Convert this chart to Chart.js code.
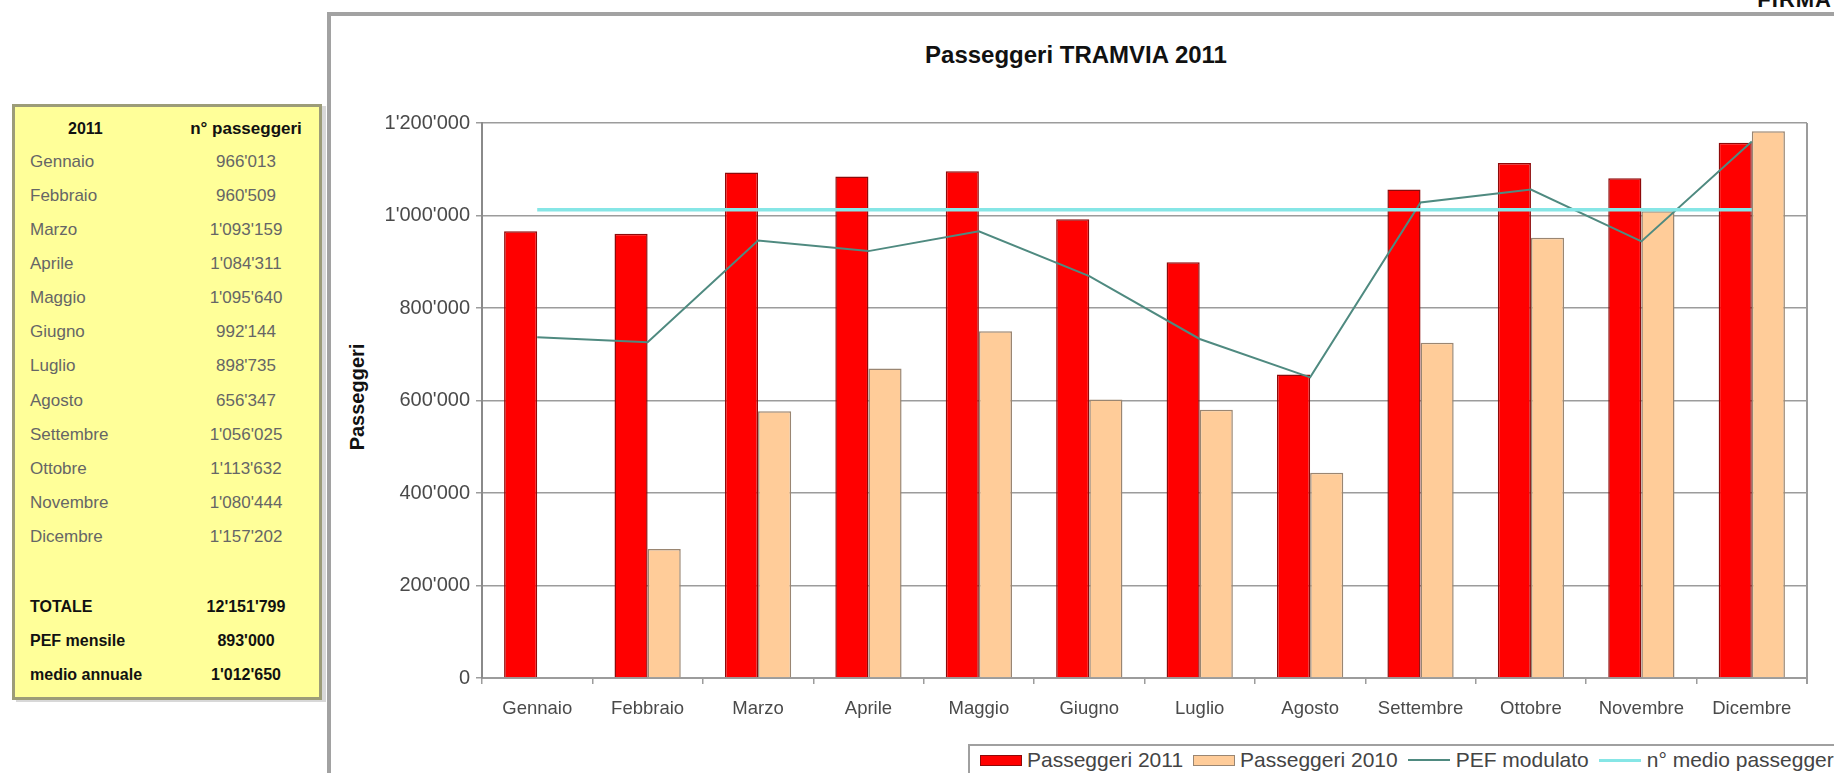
<!DOCTYPE html>
<html>
<head>
<meta charset="utf-8">
<script src="https://cdn.jsdelivr.net/npm/chart.js@4.4.1/dist/chart.umd.min.js"></script>
<style>
  html, body { margin: 0; padding: 0; background: #fff; overflow: hidden; }
  body { width: 1834px; height: 773px; position: relative; font-family: 'Liberation Sans', Arial, sans-serif; }
  .firma { position: absolute; right: 2px; top: -13px; font: bold 22px 'Liberation Sans', Arial, sans-serif; color: #111; letter-spacing: 1px; }
  .tabella { position: absolute; left: 12px; top: 104px; width: 304px; height: 590px; background: #ffff99; border: 3px solid #9c9c78; box-shadow: 4px 2px 0 #d8d8d8; }
  .riga { position: absolute; left: 0; width: 100%; height: 22px; line-height: 22px; font-size: 17px; color: #666; }
  .riga .mese { position: absolute; left: 15px; }
  .riga .val { position: absolute; left: 166px; width: 130px; text-align: center; }
  .riga.bold { color: #111; font-weight: bold; font-size: 16px; }
  .riga.head .val { font-size: 17px; }
  .cornice { position: absolute; left: 327px; top: 12px; width: 1530px; height: 780px; border: 4px solid #a2a2a2; box-sizing: border-box; }
  .titolo { position: absolute; left: 826px; width: 500px; top: 41px; text-align: center; font: bold 24px 'Liberation Sans', Arial, sans-serif; color: #111; }
  .ytitolo { position: absolute; left: 357px; top: 397px; transform: translate(-50%, -50%) rotate(-90deg); font: bold 20px 'Liberation Sans', Arial, sans-serif; color: #111; white-space: nowrap; }
  #wrap { position: absolute; left: 334px; top: 16px; width: 1500px; height: 757px; }
  .legenda { position: absolute; left: 968px; top: 744px; width: 900px; border: 2px solid #a0a0a0; background: #fff;
             display: flex; align-items: center; height: 24px; padding: 2px 0 40px 10px; box-sizing: content-box; }
  .legenda .item { display: flex; align-items: center; font-size: 21px; color: #444; white-space: nowrap; margin-right: 10px; }
  .legenda .sw { width: 42px; height: 11px; box-sizing: border-box; margin-right: 5px; }
  .legenda .ln { width: 42px; margin-right: 6px; }
</style>
</head>
<body>
<div class="firma">FIRMA</div>

<div class="tabella" id="tabella"></div>

<div class="cornice"></div>
<div class="titolo">Passeggeri TRAMVIA 2011</div>
<div class="ytitolo">Passeggeri</div>
<div id="wrap"><canvas id="chart"></canvas></div>
<div class="legenda" id="legenda"></div>

<script>
// ── Data ──────────────────────────────────────────────────────
const months = ['Gennaio', 'Febbraio', 'Marzo', 'Aprile', 'Maggio', 'Giugno', 'Luglio', 'Agosto', 'Settembre', 'Ottobre', 'Novembre', 'Dicembre'];
const passeggeri2011 = [966013, 960509, 1093159, 1084311, 1095640, 992144, 898735, 656347, 1056025, 1113632, 1080444, 1157202];
const passeggeri2010 = [null, 279000, 577000, 669000, 750000, 602000, 580000, 444000, 725000, 952000, 1009000, 1182000];
const pefModulato = [737000, 726000, 946000, 923000, 966000, 869000, 733000, 650000, 1028000, 1056000, 944000, 1160000];
const medioPasseggeri = [1012650, 1012650, 1012650, 1012650, 1012650, 1012650, 1012650, 1012650, 1012650, 1012650, 1012650, 1012650];
const yTicks = [0, 200000, 400000, 600000, 800000, 1000000, 1200000];

const summaryLabels = ['TOTALE', 'PEF mensile', 'medio annuale'];
const summaryValues = [12151799, 893000, 1012650];

const seriesNames = ['Passeggeri 2011', 'Passeggeri 2010', 'PEF modulato', 'n° medio passeggeri'];
const COL = {
  red: '#ff0000', redBorder: '#8e0a0a',
  tan: '#ffcc99', tanBorder: '#9a8672',
  pef: '#4f8a80', medio: '#86e6e6',
  grid: '#9c9c9c', text: '#4a4a4a',
};

const fmt = v => String(v).replace(/\B(?=(\d{3})+(?!\d))/g, "'");

// ── Table ─────────────────────────────────────────────────────
const tab = document.getElementById('tabella');
const rowTops = [11, 44, 78, 112, 146, 180, 214, 248, 283, 317, 351, 385, 419];
let html = `<div class="riga bold head" style="top:${rowTops[0]}px"><span class="mese" style="left:53px">2011</span><span class="val">n° passeggeri</span></div>`;
months.forEach((m, i) => {
  html += `<div class="riga" style="top:${rowTops[i + 1]}px"><span class="mese">${m}</span><span class="val">${fmt(passeggeri2011[i])}</span></div>`;
});
summaryLabels.forEach((l, i) => {
  html += `<div class="riga bold" style="top:${489 + i * 34}px"><span class="mese">${l}</span><span class="val">${fmt(summaryValues[i])}</span></div>`;
});
tab.innerHTML = html;

// ── Legend ────────────────────────────────────────────────────
document.getElementById('legenda').innerHTML = seriesNames.map((n, i) => {
  let mark;
  if (i === 0) mark = `<div class="sw" style="background:${COL.red};border:1px solid ${COL.redBorder}"></div>`;
  else if (i === 1) mark = `<div class="sw" style="background:${COL.tan};border:1px solid ${COL.tanBorder}"></div>`;
  else if (i === 2) mark = `<div class="ln" style="border-top:2px solid ${COL.pef}"></div>`;
  else mark = `<div class="ln" style="border-top:3px solid ${COL.medio}"></div>`;
  return `<div class="item">${mark}<span>${n}</span></div>`;
}).join('');

// ── Chart ─────────────────────────────────────────────────────
const plotFrame = {
  id: 'plotFrame',
  afterDatasetsDraw(chart) {
    const { ctx, chartArea: a } = chart;
    ctx.save();
    ctx.strokeStyle = COL.grid;
    ctx.lineWidth = 2;
    ctx.beginPath();
    ctx.moveTo(a.right, a.top);
    ctx.lineTo(a.right, a.bottom + 6);
    ctx.stroke();
    ctx.restore();
  },
};

new Chart(document.getElementById('chart'), {
  type: 'bar',
  data: {
    labels: months,
    datasets: [
      {
        type: 'line', label: seriesNames[3], data: medioPasseggeri, order: 0,
        borderColor: COL.medio, borderWidth: 3.5, pointRadius: 0, tension: 0, fill: false,
      },
      {
        type: 'line', label: seriesNames[2], data: pefModulato, order: 0,
        borderColor: COL.pef, borderWidth: 2, pointRadius: 0, tension: 0, fill: false,
      },
      {
        label: seriesNames[0], data: passeggeri2011, order: 1,
        backgroundColor: COL.red, borderColor: COL.redBorder, borderWidth: 1.5,
      },
      {
        label: seriesNames[1], data: passeggeri2010, order: 1,
        backgroundColor: COL.tan, borderColor: COL.tanBorder, borderWidth: 1.5,
      },
    ],
  },
  options: {
    responsive: true, maintainAspectRatio: false, animation: false,
    layout: { padding: { top: 107, right: 27, bottom: 0, left: 0 } },
    datasets: { bar: { categoryPercentage: 0.6, barPercentage: 1.0 } },
    plugins: { legend: { display: false }, tooltip: { enabled: false } },
    scales: {
      x: {
        offset: true,
        grid: { offset: true, drawOnChartArea: false, drawTicks: true, tickLength: 6, color: COL.grid, lineWidth: 1.5 },
        border: { color: COL.grid, width: 2 },
        ticks: { color: COL.text, font: { family: 'Liberation Sans', size: 18.5 }, padding: 14, maxRotation: 0, autoSkip: false },
        afterFit: s => { s.height = 95; },
      },
      y: {
        min: 0, max: 1200000,
        afterBuildTicks: s => { s.ticks = yTicks.map(v => ({ value: v })); },
        grid: { color: COL.grid, lineWidth: 1.5, drawTicks: true, tickLength: 6 },
        border: { color: '#8a8a8a', width: 2 },
        ticks: { color: COL.text, font: { family: 'Liberation Sans', size: 20 }, padding: 6, callback: v => fmt(v) },
        afterFit: s => { s.width = 148; },
      },
    },
  },
  plugins: [plotFrame],
});
</script>
</body>
</html>
